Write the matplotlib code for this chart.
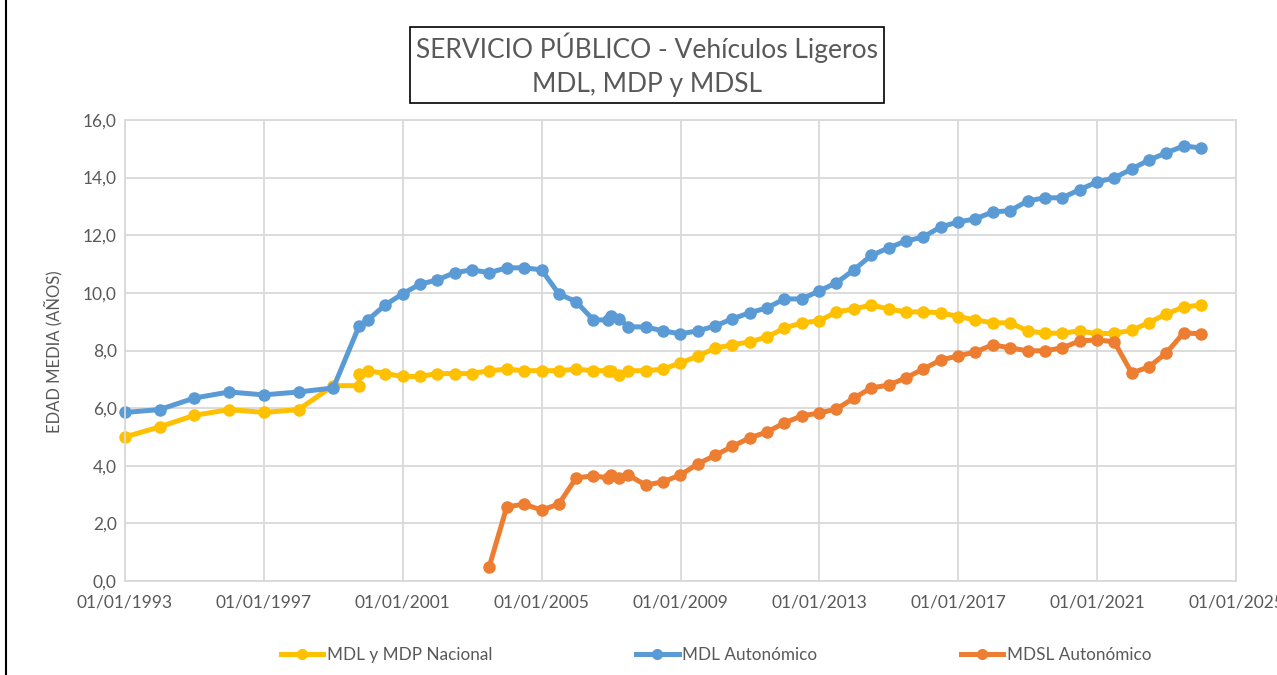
import numpy as np
import pandas as pd
import matplotlib
matplotlib.use("Agg")
import matplotlib.pyplot as plt
import matplotlib.dates as mdates
from matplotlib.ticker import FuncFormatter, MultipleLocator, FixedLocator
from matplotlib.lines import Line2D

plt.rcParams['font.family'] = ['Lato', 'DejaVu Sans']

dates = ["1993-01-01", "1994-01-01", "1995-01-01", "1996-01-01", "1997-01-01", "1998-01-01", "1999-01-01",
         "1999-09-30", "1999-09-30",
         "1999-12-31", "2000-06-30", "2000-12-31", "2001-06-30", "2001-12-31", "2002-06-30", "2002-12-31",
         "2003-06-30", "2003-12-31", "2004-06-30", "2004-12-31", "2005-06-30", "2005-12-31", "2006-06-30",
         "2006-11-30", "2006-12-31", "2007-03-31", "2007-06-30", "2007-12-31", "2008-06-30", "2008-12-31",
         "2009-06-30", "2009-12-31", "2010-06-30", "2010-12-31", "2011-06-30", "2011-12-31", "2012-06-30", "2012-12-31",
         "2013-06-30", "2013-12-31", "2014-06-30", "2014-12-31", "2015-06-30", "2015-12-31", "2016-06-30", "2016-12-31",
         "2017-06-30", "2017-12-31", "2018-06-30", "2018-12-31", "2019-06-30", "2019-12-31", "2020-06-30", "2020-12-31",
         "2021-06-30", "2021-12-31", "2022-06-30", "2022-12-31", "2023-06-30", "2023-12-31"]

mdl_mdp_nacional = [5.0, 5.35, 5.75, 5.95, 5.85, 5.95, 6.78,
                    6.78, 7.2,
                    7.3, 7.2, 7.1, 7.1, 7.2, 7.2, 7.2,
                    7.3, 7.35, 7.3, 7.3, 7.3, 7.35, 7.3,
                    7.3, 7.3, 7.15, 7.3, 7.3, 7.35, 7.57,
                    7.8, 8.08, 8.2, 8.3, 8.47, 8.78, 8.96, 9.03,
                    9.34, 9.44, 9.58, 9.44, 9.34, 9.34, 9.31, 9.18,
                    9.06, 8.96, 8.96, 8.68, 8.6, 8.6, 8.68, 8.58,
                    8.6, 8.7, 8.97, 9.27, 9.51, 9.58]

mdl_autonomico = [5.85, 5.95, 6.35, 6.56, 6.46, 6.56, 6.7,
                  np.nan, 8.85,
                  9.06, 9.58, 9.97, 10.3, 10.45, 10.7, 10.8,
                  10.7, 10.87, 10.87, 10.8, 9.97, 9.69, 9.06,
                  9.06, 9.2, 9.1, 8.82, 8.82, 8.68, 8.58,
                  8.68, 8.85, 9.1, 9.31, 9.48, 9.79, 9.79, 10.07,
                  10.35, 10.8, 11.3, 11.56, 11.8, 11.94, 12.29, 12.46,
                  12.57, 12.81, 12.85, 13.19, 13.3, 13.3, 13.58, 13.85,
                  13.99, 14.3, 14.61, 14.86, 15.1, 15.03]

mdsl_autonomico = [np.nan] * 16 + [
                   0.5, 2.57, 2.67, 2.46, 2.67, 3.58, 3.65,
                   3.58, 3.68, 3.58, 3.68, 3.33, 3.44, 3.68,
                   4.06, 4.36, 4.67, 4.97, 5.17, 5.49, 5.73, 5.83,
                   5.97, 6.35, 6.7, 6.8, 7.05, 7.36, 7.67, 7.81,
                   7.95, 8.2, 8.09, 7.99, 7.99, 8.09, 8.33, 8.37,
                   8.3, 7.22, 7.43, 7.92, 8.61, 8.58]

x_ticks = ["1993-01-01", "1997-01-01", "2001-01-01", "2005-01-01", "2009-01-01",
           "2013-01-01", "2017-01-01", "2021-01-01", "2025-01-01"]

series_names = ["MDL y MDP Nacional", "MDL Autonómico", "MDSL Autonómico"]
series_colors = ["#FFC000", "#5B9BD5", "#ED7D31"]
title_lines = ["SERVICIO PÚBLICO - Vehículos Ligeros", "MDL, MDP y MDSL"]
y_label = "EDAD MEDIA (AÑOS)"

x = pd.to_datetime(dates)
fig = plt.figure(figsize=(12.77, 6.75), dpi=100)
ax = fig.add_axes([125/1277, 1 - 581/675, (1236-125)/1277, (581-120)/675])

text_col = "#595959"
grid_col = "#D9D9D9"

handles = []
for vals, name, col in zip([mdl_mdp_nacional, mdl_autonomico, mdsl_autonomico], series_names, series_colors):
    v = np.array(vals, dtype=float)
    m = ~np.isnan(v)
    ax.plot(x[m], v[m], color=col, lw=3.6, marker='o', ms=8, solid_capstyle='round', solid_joinstyle='round',
            clip_on=False)
    handles.append(Line2D([0], [0], color=col, lw=3.6, marker='o', ms=7))

ax.set_xlim(pd.Timestamp(x_ticks[0]), pd.Timestamp(x_ticks[-1]))
ax.set_ylim(0, 16)
ax.yaxis.set_major_locator(MultipleLocator(2))
ax.yaxis.set_major_formatter(FuncFormatter(lambda v, p: f"{v:.1f}".replace(".", ",")))
ax.xaxis.set_major_locator(FixedLocator(mdates.date2num(pd.to_datetime(x_ticks))))
ax.xaxis.set_major_formatter(mdates.DateFormatter("%d/%m/%Y"))
ax.grid(True, color=grid_col, lw=1.3)
ax.set_axisbelow(True)
for s in ax.spines.values():
    s.set_color(grid_col)
    s.set_linewidth(1.3)
ax.tick_params(axis='both', length=0, labelsize=12.5, colors=text_col, pad=10)
ax.tick_params(axis='y', pad=6)
for lab in ax.get_xticklabels() + ax.get_yticklabels():
    lab.set_color(text_col)

fig.text(53/1277, 1 - 352/675, y_label, rotation=90, ha='center', va='center',
         fontsize=12, color=text_col)

fig.text(647/1277, 1 - 65/675, "\n".join(title_lines), ha='center', va='center',
         fontsize=19, color=text_col, linespacing=1.45,
         bbox=dict(boxstyle='square,pad=0.22', fc='white', ec='black', lw=1.2))

leg = fig.legend(handles, series_names, loc='center', bbox_to_anchor=(716/1277, 1 - 655/675),
                 ncol=3, frameon=False, fontsize=12.3, handlelength=2.5, handletextpad=0.2,
                 columnspacing=8.4)
for t in leg.get_texts():
    t.set_color(text_col)

fig.add_artist(Line2D([6/1277, 6/1277], [0, 1], transform=fig.transFigure, color='black', lw=1.5))

fig.savefig("out.png", dpi=100)
